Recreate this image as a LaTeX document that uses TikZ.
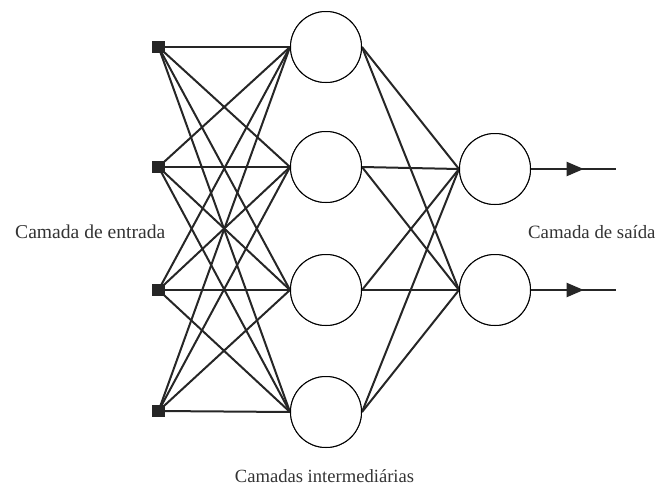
\documentclass[tikz,border=0pt]{standalone}
\usepackage{fontspec}
\setmainfont{Liberation Serif}
\usetikzlibrary{arrows.meta,decorations.markings}
\begin{document}
\begin{tikzpicture}[x=1pt,y=-1pt,
  inunit/.style={fill=black!85,minimum size=12.5pt,inner sep=0pt,draw=none},
  neuron/.style={circle,draw,line width=1pt,minimum size=71pt,inner sep=0pt,fill=white},
  link/.style={line width=2pt,black!85},
  label/.style={inner sep=0pt,text=black!80},
  outarrow/.style={link,postaction={decorate},decoration={markings,
    mark=at position 0.62 with {\arrow{Triangle[length=17pt,width=14pt]}}}}]
\useasboundingbox (0,0) rectangle (662,485);
% input layer
\foreach \i/\y in {1/47,2/167,3/290,4/411}
  \node[inunit] (in\i) at (158.5,\y) {};
% hidden layer
\foreach \i/\y in {1/47,2/167,3/290,4/412}
  \node[neuron] (h\i) at (326,\y) {};
% output layer
\foreach \i/\y in {1/169,2/290}
  \node[neuron] (o\i) at (495,\y) {};
\foreach \i/\y in {1/169,2/290}
  \coordinate (end\i) at (616,\y);
% connections
\foreach \i in {1,...,4}
  \foreach \j in {1,...,4}
    \draw[link] (in\i.center) -- (h\j.west);
\foreach \j in {1,...,4}
  \foreach \k in {1,2}
    \draw[link] (h\j.east) -- (o\k.west);
% redraw units on top of the lines
\foreach \i/\y in {1/47,2/167,3/290,4/411}
  \node[inunit] at (158.5,\y) {};
\foreach \i/\y in {1/47,2/167,3/290,4/412}
  \node[neuron] at (326,\y) {};
\foreach \i/\y in {1/169,2/290}
  \node[neuron] at (495,\y) {};
% outputs
\draw[outarrow] (o1.east) -- (end1);
\draw[outarrow] (o2.east) -- (end2);
% labels
\node[label,anchor=base west,font=\fontsize{19.6}{22}\selectfont] (lin) at (15,238) {Camada de entrada};
\node[label,anchor=base west,font=\fontsize{18.8}{22}\selectfont] (lout) at (528,238) {Camada de saída};
\node[label,anchor=base,font=\fontsize{18.6}{22}\selectfont] (lhid) at (324.5,482) {Camadas intermediárias};
\end{tikzpicture}
\end{document}
